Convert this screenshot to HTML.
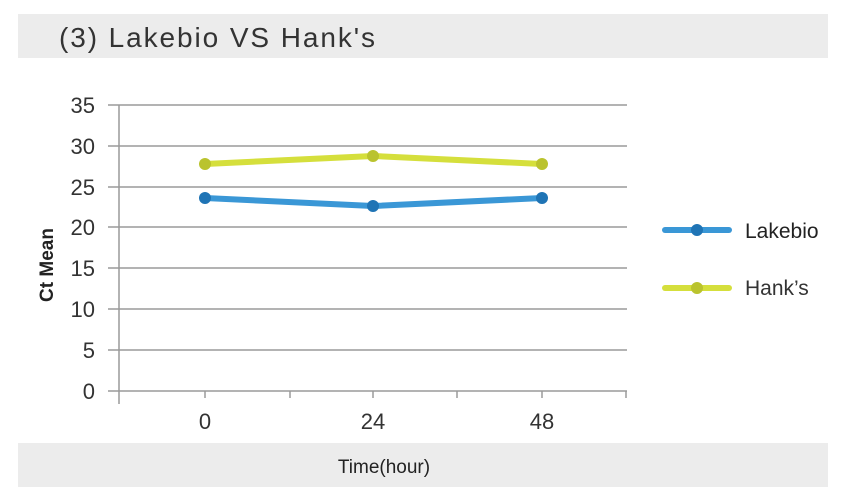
<!DOCTYPE html>
<html><head><meta charset="utf-8"><style>
html,body{margin:0;padding:0;background:#fff;width:844px;height:499px;overflow:hidden}
svg{display:block;font-family:"Liberation Sans",sans-serif}
</style></head><body>
<svg width="844" height="499" viewBox="0 0 844 499">
<rect x="18" y="14" width="810" height="44" fill="#ececec"/>
<text x="59" y="47" font-size="28" fill="#333" textLength="316" lengthAdjust="spacing">(3)  Lakebio VS Hank's</text>
<g stroke="#9a9a9a" stroke-width="1.5">
<line x1="108" y1="105" x2="627" y2="105"/>
<line x1="108" y1="146" x2="627" y2="146"/>
<line x1="108" y1="187" x2="627" y2="187"/>
<line x1="108" y1="227" x2="627" y2="227"/>
<line x1="108" y1="268" x2="627" y2="268"/>
<line x1="108" y1="309" x2="627" y2="309"/>
<line x1="108" y1="350" x2="627" y2="350"/>
<line x1="108" y1="391" x2="627" y2="391"/>
<line x1="119" y1="105" x2="119" y2="404"/>
<line x1="205" y1="391" x2="205" y2="398"/>
<line x1="290" y1="391" x2="290" y2="398"/>
<line x1="373" y1="391" x2="373" y2="398"/>
<line x1="457" y1="391" x2="457" y2="398"/>
<line x1="542" y1="391" x2="542" y2="398"/>
<line x1="626" y1="391" x2="626" y2="398"/>
</g>
<g font-size="22" fill="#333" text-anchor="end">
<text x="95" y="113">35</text><text x="95" y="154">30</text><text x="95" y="195">25</text>
<text x="95" y="235">20</text><text x="95" y="276">15</text><text x="95" y="317">10</text>
<text x="95" y="358">5</text><text x="95" y="399">0</text>
</g>
<g font-size="22" fill="#333" text-anchor="middle">
<text x="205" y="429">0</text><text x="373" y="429">24</text><text x="542" y="429">48</text>
</g>
<text transform="translate(53,265) rotate(-90)" font-size="19" font-weight="bold" fill="#222" text-anchor="middle">Ct Mean</text>
<polyline points="205,164 373,156 542,164" fill="none" stroke="#d5df3c" stroke-width="6" stroke-linejoin="round"/>
<polyline points="205,198 373,206 542,198" fill="none" stroke="#3a97d6" stroke-width="6" stroke-linejoin="round"/>
<g fill="#bac32e"><circle cx="205" cy="164" r="6"/><circle cx="373" cy="156" r="6"/><circle cx="542" cy="164" r="6"/></g>
<g fill="#1f74b5"><circle cx="205" cy="198" r="6"/><circle cx="373" cy="206" r="6"/><circle cx="542" cy="198" r="6"/></g>
<line x1="665" y1="230" x2="729" y2="230" stroke="#3a97d6" stroke-width="6" stroke-linecap="round"/>
<circle cx="697" cy="230" r="6" fill="#1f74b5"/>
<line x1="665" y1="288" x2="729" y2="288" stroke="#d5df3c" stroke-width="6" stroke-linecap="round"/>
<circle cx="697" cy="288" r="6" fill="#bac32e"/>
<text x="745" y="238" font-size="21" fill="#222">Lakebio</text>
<text x="745" y="295" font-size="21" fill="#333">Hank’s</text>
<rect x="18" y="443" width="810" height="44" fill="#ececec"/>
<text x="384" y="473" font-size="19" fill="#222" text-anchor="middle">Time(hour)</text>
</svg>
</body></html>
